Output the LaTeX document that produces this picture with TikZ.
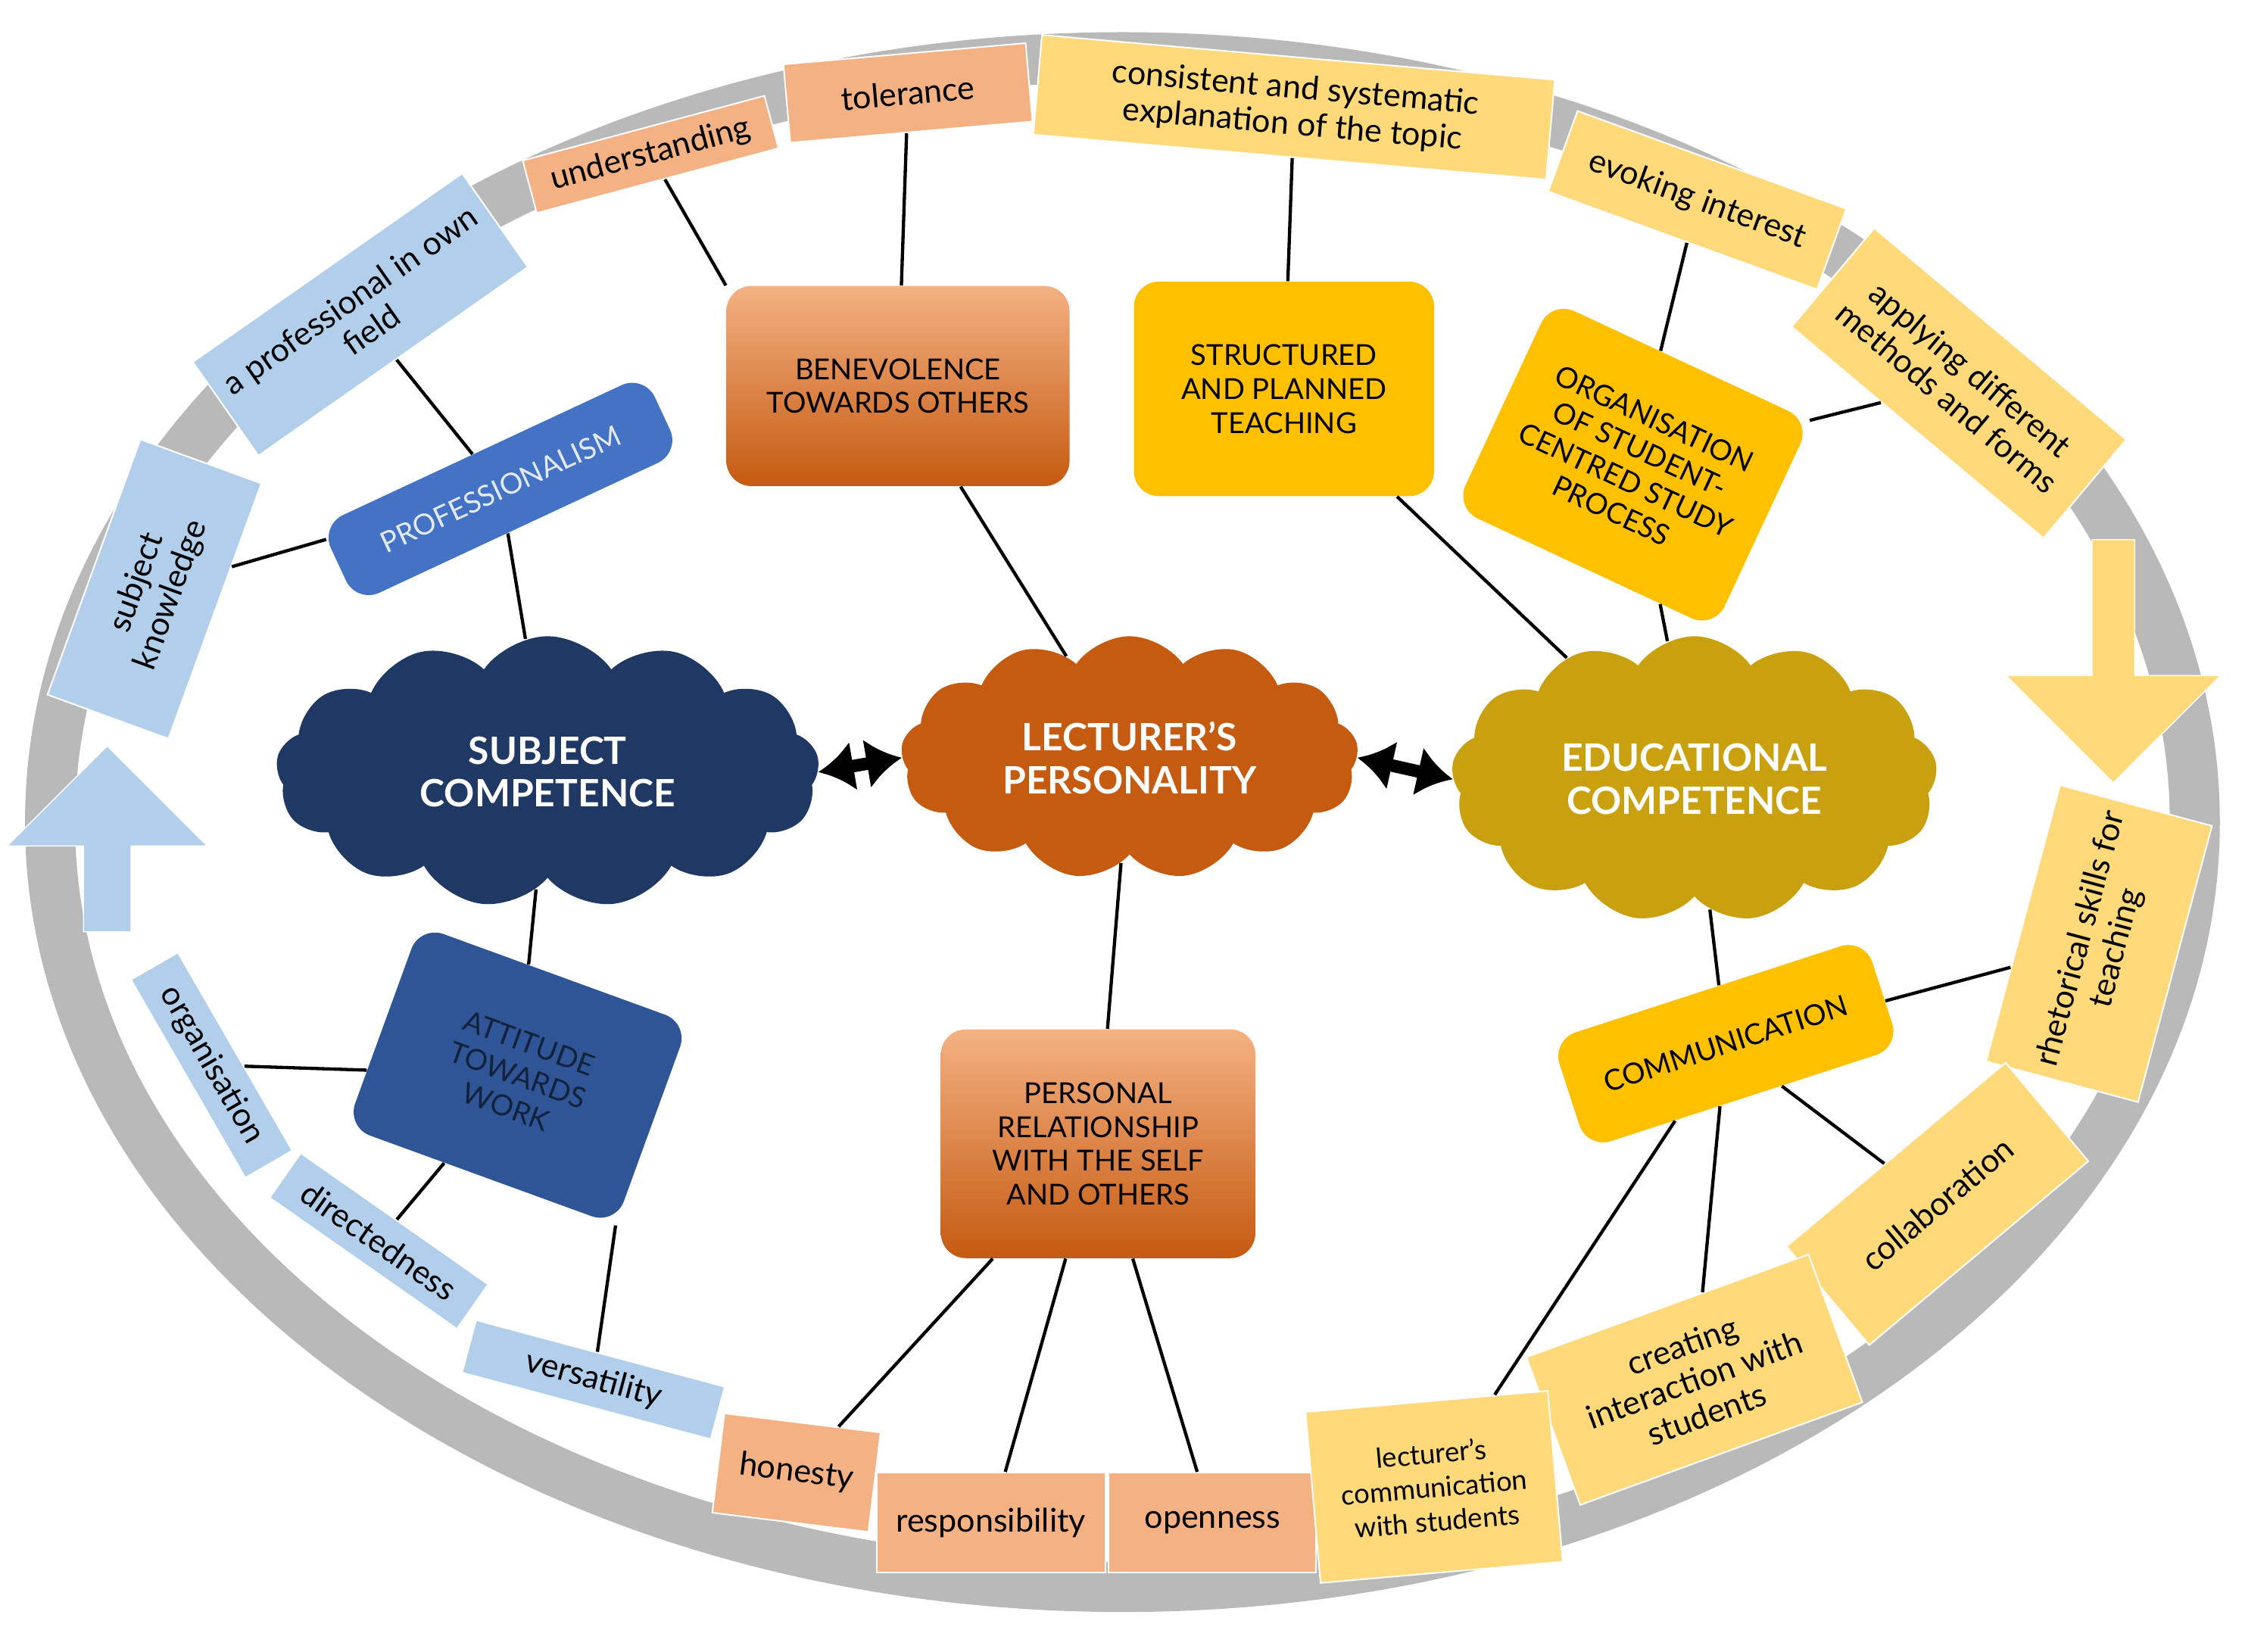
\documentclass[tikz,border=0pt]{standalone}
\usepackage{fontspec}
\setmainfont{Lato}
\usetikzlibrary{shapes.symbols,shapes.arrows,arrows.meta}
\definecolor{navy}{HTML}{1F3864}
\definecolor{rust}{HTML}{C55A11}
\definecolor{goldc}{HTML}{C9A010}
\definecolor{blueb}{HTML}{4472C4}
\definecolor{dblue}{HTML}{2F5597}
\definecolor{amber}{HTML}{FFC000}
\definecolor{lblue}{HTML}{9DC3E6}
\definecolor{salmon}{HTML}{F4B183}
\definecolor{lgold}{HTML}{FFD97A}
\begin{document}
\begin{tikzpicture}[x=0.02cm,y=-0.02cm,
 cloudn/.style={cloud,cloud puffs=13,cloud puff arc=110,aspect=2,draw=none,text=white,font=\bfseries\fontsize{15}{17}\selectfont,align=center},
 box/.style={rounded corners=10pt,align=center,font=\fontsize{11.5}{13.5}\selectfont,inner sep=3pt},
 ring/.style={draw=white,line width=0.6pt,align=center,font=\fontsize{13}{14.5}\selectfont,inner sep=4pt,minimum height=38*0.02cm},
 rb/.style={ring,fill=lblue!80},
 rs/.style={ring,fill=salmon},
 rg/.style={ring,fill=lgold},
 ln/.style={line width=1.3pt}]
\useasboundingbox (0,0) rectangle (1568,1155);
\draw[line width=0.7cm,gray!55] (785,575) ellipse [x radius=750,y radius=535];
% arrows
\node[single arrow,fill=lblue!80,draw=white,rotate=90,minimum width=140*0.02cm,minimum height=130*0.02cm,single arrow head extend=20*0.02cm] (ua) at (75,595) {};
\node[single arrow,fill=lgold,draw=white,rotate=-90,minimum width=150*0.02cm,minimum height=170*0.02cm,single arrow head extend=25*0.02cm] (da) at (1478,455) {};
% ring labels
\node[rb,rotate=70,minimum width=190*0.02cm,minimum height=90*0.02cm] (sk) at (108,412) {subject\\knowledge};
\node[rb,rotate=35,minimum width=230*0.02cm,minimum height=80*0.02cm] (pf) at (252,220) {a professional in own\\field};
\node[rb,rotate=-60,minimum width=160*0.02cm] (or) at (148,745) {organisation};
\node[rb,rotate=-35,minimum width=160*0.02cm] (di) at (265,868) {directedness};
\node[rb,rotate=-15,minimum width=180*0.02cm] (ve) at (415,965) {versatility};
\node[rs,rotate=15,minimum width=175*0.02cm] (un) at (455,108) {understanding};
\node[rs,rotate=5,minimum width=170*0.02cm,minimum height=55*0.02cm] (to) at (635,65) {tolerance};
\node[rs,rotate=-7,minimum width=110*0.02cm,minimum height=70*0.02cm] (ho) at (557,1030) {honesty};
\node[rs,minimum width=160*0.02cm,minimum height=70*0.02cm] (re) at (693,1065) {responsibility};
\node[rs,minimum width=145*0.02cm,minimum height=70*0.02cm] (op) at (848,1065) {openness};
\node[rg,rotate=-5,minimum width=360*0.02cm,minimum height=70*0.02cm] (co) at (905,75) {consistent and systematic\\explanation of the topic};
\node[rg,rotate=-20,minimum width=200*0.02cm,minimum height=60*0.02cm] (ev) at (1187,140) {evoking interest};
\node[rg,rotate=-40,minimum width=230*0.02cm,minimum height=90*0.02cm] (ap) at (1370,268) {applying different\\methods and forms};
\node[rg,rotate=75,minimum width=200*0.02cm,minimum height=110*0.02cm] (rh) at (1468,660) {rhetorical skills for\\teaching};
\node[rg,rotate=40,minimum width=200*0.02cm,minimum height=90*0.02cm] (cl) at (1355,842) {collaboration};
\node[rg,rotate=20,minimum width=210*0.02cm,minimum height=110*0.02cm] (cr) at (1185,965) {creating\\interaction with\\students};
\node[rg,rotate=5,minimum width=170*0.02cm,minimum height=120*0.02cm,font=\fontsize{11}{13.5}\selectfont] (lc) at (1003,1040) {lecturer's\\communication\\with students};
% clouds
\node[cloudn,fill=navy,minimum width=380*0.02cm,minimum height=190*0.02cm] (sc) at (383,540) {SUBJECT\\COMPETENCE};
\node[cloudn,fill=rust,minimum width=320*0.02cm,minimum height=170*0.02cm] (lp) at (790,530) {LECTURER'S\\PERSONALITY};
\node[cloudn,fill=goldc,minimum width=340*0.02cm,minimum height=200*0.02cm] (ec) at (1185,545) {EDUCATIONAL\\COMPETENCE};
\draw[line width=5pt,<->,>={Latex[length=14pt,width=20pt]}] (sc.east) -- (lp.west);
\draw[line width=5pt,<->,>={Latex[length=14pt,width=20pt]}] (lp.east) -- (ec.west);
% boxes
\node[box,fill=blueb,text=white!85!blueb,rotate=25,minimum width=250*0.02cm,minimum height=60*0.02cm] (pr) at (350,342) {PROFESSIONALISM};
\node[box,fill=dblue,text=navy!60!black,rotate=-20,minimum width=200*0.02cm,minimum height=150*0.02cm] (at) at (362,752) {ATTITUDE\\TOWARDS\\WORK};
\node[box,top color=salmon,bottom color=rust,minimum width=240*0.02cm,minimum height=140*0.02cm] (be) at (628,270) {BENEVOLENCE\\TOWARDS OTHERS};
\node[box,fill=amber,minimum width=210*0.02cm,minimum height=150*0.02cm] (st) at (898,272) {STRUCTURED\\AND PLANNED\\TEACHING};
\node[box,fill=amber,rotate=-25,minimum width=200*0.02cm,minimum height=160*0.02cm] (og) at (1142,325) {ORGANISATION\\OF STUDENT-\\CENTRED STUDY\\PROCESS};
\node[box,top color=salmon,bottom color=rust,minimum width=220*0.02cm,minimum height=160*0.02cm] (pe) at (768,800) {PERSONAL\\RELATIONSHIP\\WITH THE SELF\\AND OTHERS};
\node[box,fill=amber,rotate=18,minimum width=230*0.02cm,minimum height=80*0.02cm] (cm) at (1207,730) {COMMUNICATION};
% connectors
\draw[ln] (sk) -- (pr);
\draw[ln] (pf) -- (pr);
\draw[ln] (pr) -- (sc);
\draw[ln] (sc) -- (at);
\draw[ln] (at) -- (or);
\draw[ln] (at) -- (di);
\draw[ln] (at.south east) -- (ve);
\draw[ln] (un) -- (be.north west);
\draw[ln] (to) -- (be);
\draw[ln] (be) -- (lp);
\draw[ln] (co) -- (st);
\draw[ln] (st) -- (ec);
\draw[ln] (ev) -- (og);
\draw[ln] (ap) -- (og);
\draw[ln] (og) -- (ec);
\draw[ln] (lp) -- (pe);
\draw[ln] (pe) -- (ho);
\draw[ln] (pe) -- (re);
\draw[ln] (pe) -- (op);
\draw[ln] (ec) -- (cm);
\draw[ln] (cm) -- (rh);
\draw[ln] (cm) -- (cl);
\draw[ln] (cm) -- (cr);
\draw[ln] (cm) -- (lc);
\end{tikzpicture}
\end{document}
